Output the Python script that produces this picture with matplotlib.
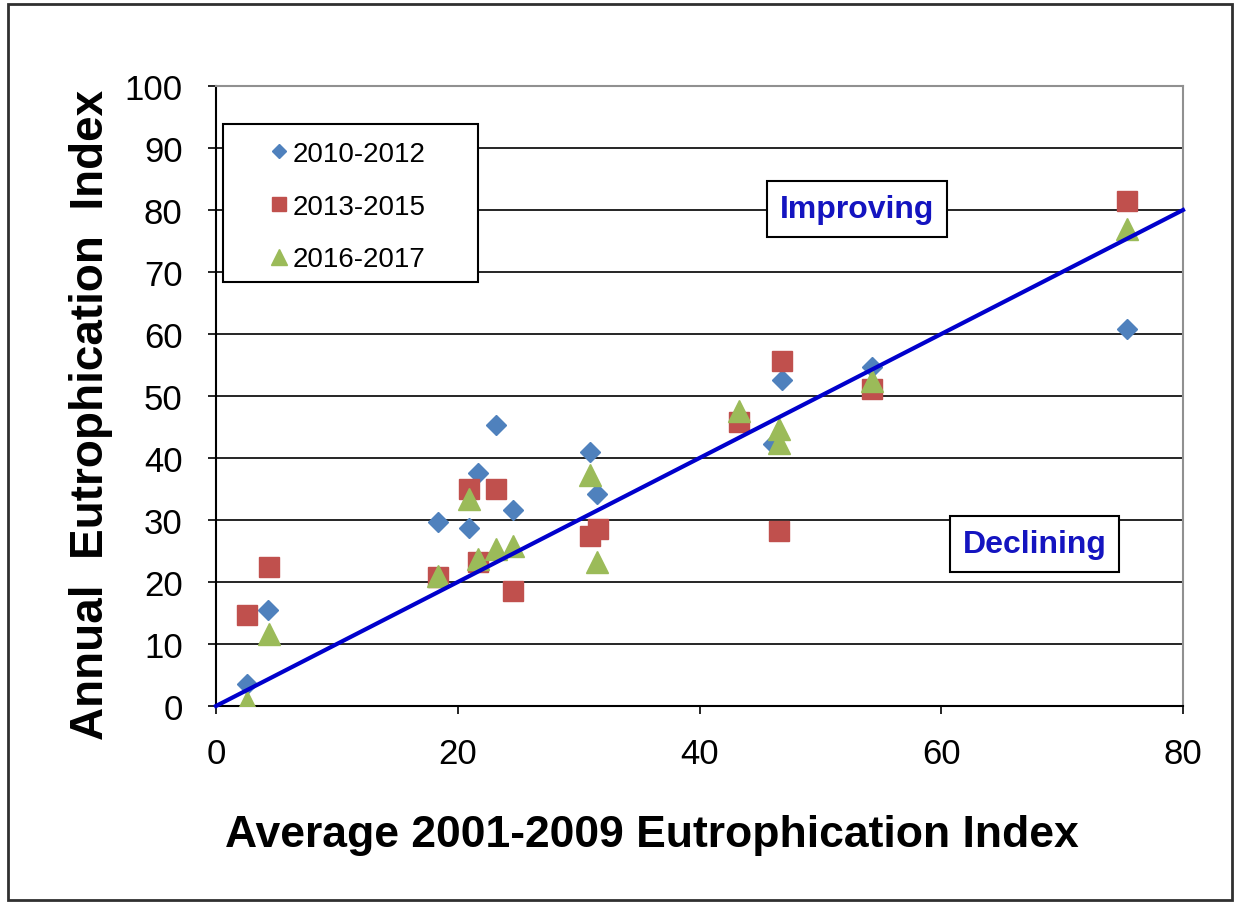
import matplotlib
matplotlib.use('Agg')
import matplotlib.pyplot as plt
from matplotlib.patches import Rectangle

plt.rcParams['font.family'] = ['Liberation Sans', 'DejaVu Sans']

# values
x_1012 = [2.6, 4.3, 18.4, 20.9, 21.7, 23.2, 24.6, 30.9, 31.5, 46.1, 46.8, 54.3, 75.4]
y_1012 = [3.5, 15.5, 29.7, 28.7, 37.6, 45.3, 31.6, 41.0, 34.2, 42.2, 52.6, 54.6, 60.8]

x_1315 = [2.6, 4.4, 18.4, 20.9, 21.7, 23.2, 24.6, 30.9, 31.6, 43.3, 46.6, 46.8, 54.3, 75.4]
y_1315 = [14.7, 22.4, 20.8, 35.0, 23.2, 35.0, 18.5, 27.4, 28.5, 45.8, 28.2, 55.6, 51.1, 81.5]

x_1617 = [2.6, 4.4, 18.4, 20.9, 21.7, 23.2, 24.6, 30.9, 31.5, 43.3, 46.6, 46.6, 54.3, 75.4]
y_1617 = [0.6, 11.6, 21.0, 33.4, 23.7, 25.3, 25.8, 37.3, 23.2, 47.6, 44.6, 42.4, 52.5, 77.0]

line_x = [0, 80]
line_y = [0, 80]

fig = plt.figure(figsize=(12.35, 9.03), dpi=100)
ax = fig.add_axes([216 / 1235, 1 - 707 / 903, 967 / 1235, 620 / 903])

ax.plot(x_1012, y_1012, 'D', color='#4F81BD', ms=10, mec='#4F81BD', ls='none', label='2010-2012', zorder=3)
ax.plot(x_1315, y_1315, 's', color='#C0504D', ms=15, mec='#C0504D', ls='none', label='2013-2015', zorder=3)
ax.plot(x_1617, y_1617, '^', color='#9BBB59', ms=16, mec='#9BBB59', ls='none', label='2016-2017', zorder=3)
ax.plot(line_x, line_y, color='#0000CC', lw=3, zorder=4, clip_on=False)

ax.set_xlim(0, 80)
ax.set_ylim(0, 100)
ax.set_xticks(range(0, 81, 20))
ax.set_yticks(range(0, 101, 10))
ax.set_axisbelow(True)
ax.yaxis.grid(True, color='black', lw=1.2)

for s in ['left', 'bottom']:
    ax.spines[s].set_color('black')
    ax.spines[s].set_linewidth(1.5)
for s in ['top', 'right']:
    ax.spines[s].set_color('#909090')
    ax.spines[s].set_linewidth(1.5)

ax.tick_params(direction='out', length=6, width=1.2, labelsize=25)
ax.tick_params(axis='y', pad=18)
ax.tick_params(axis='x', pad=16)

ax.set_xlabel('Average 2001-2009 Eutrophication Index', fontsize=32, fontweight='bold')
ax.xaxis.set_label_coords(0.451, -0.175)
ax.set_ylabel('Annual  Eutrophication  Index', fontsize=33, fontweight='bold')
ax.yaxis.set_label_coords(-0.106, 0.471)

box = dict(boxstyle='square,pad=0.4', fc='white', ec='black', lw=1.5)
ax.text(53.0, 80.2, 'Improving', color='#1414C0', fontsize=23, fontweight='bold',
        ha='center', va='center', bbox=box, zorder=5)
ax.text(67.7, 26.1, 'Declining', color='#1414C0', fontsize=23, fontweight='bold',
        ha='center', va='center', bbox=box, zorder=5)

# legend frame drawn by hand, the entries sit inside it
ax.add_patch(Rectangle((0.0072, 0.684), 0.264, 0.255, transform=ax.transAxes,
                       fc='white', ec='black', lw=1.5, zorder=6))
leg = ax.legend(loc='upper left', bbox_to_anchor=(0.057, 0.912), fontsize=20,
                frameon=False, markerscale=0.7, handlelength=0.6, handletextpad=0.17,
                labelspacing=0.97, borderpad=0, borderaxespad=0)
leg.set_zorder(7)

fig.patches.append(Rectangle((8 / 1235, 0.002), 1224 / 1235, 0.9925, transform=fig.transFigure,
                             fill=False, ec='#303030', lw=2))

fig.savefig('out.png', dpi=100)
